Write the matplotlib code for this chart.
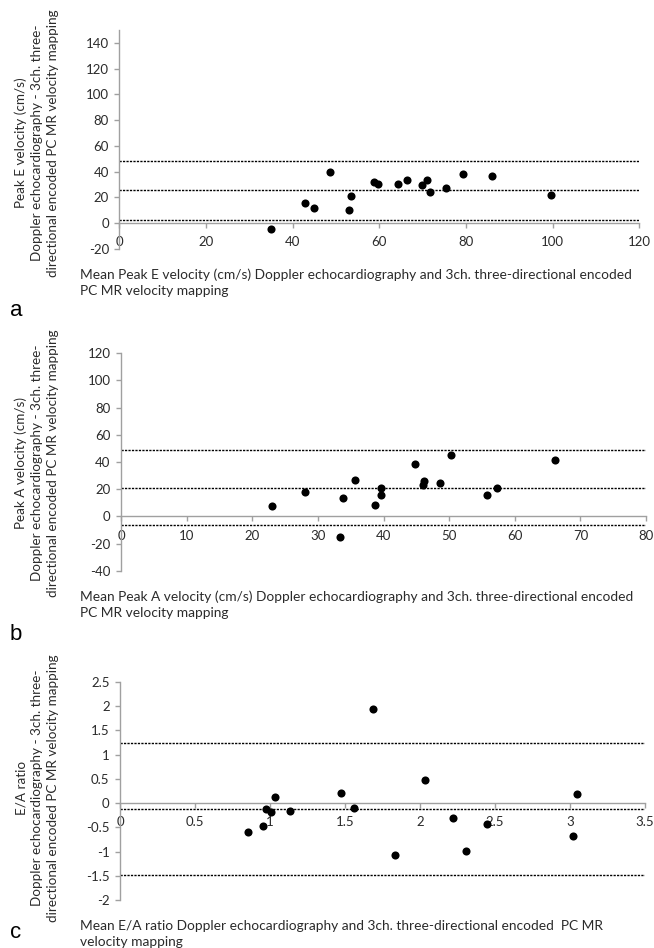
import matplotlib
matplotlib.use("Agg")
import matplotlib.pyplot as plt

plt.rcParams["font.family"] = ["Lato", "DejaVu Sans"]
plt.rcParams["axes.unicode_minus"] = False

# panel a: Peak E velocity
e_mean = [34.9, 42.85, 44.9, 48.7, 52.9, 53.5, 58.7, 59.6, 64.3, 66.4, 69.9, 71.0, 71.7, 75.3, 79.3, 85.9, 99.6]
e_diff = [-4.7, 15.9, 11.7, 39.7, 9.9, 21.0, 32.2, 30.6, 30.6, 33.2, 29.8, 33.2, 24.4, 27.2, 38.1, 36.3, 21.8]
e_limits = [48.5, 25.4, 2.4]

# panel b: Peak A velocity
a_mean = [23.0, 28.0, 33.4, 33.9, 35.7, 38.7, 39.6, 39.6, 44.8, 46.0, 46.2, 48.6, 50.3, 55.8, 57.3, 66.2]
a_diff = [7.8, 17.7, -15.5, 13.5, 26.5, 8.6, 20.6, 15.9, 38.3, 23.3, 25.8, 24.8, 44.9, 15.9, 20.8, 41.7]
a_limits = [48.6, 21.1, -6.2]

# panel c: E/A ratio
ea_mean = [0.856, 0.956, 0.971, 1.007, 1.036, 1.131, 1.473, 1.562, 1.684, 1.833, 2.031, 2.22, 2.307, 2.447, 3.018, 3.047]
ea_diff = [-0.60, -0.48, -0.12, -0.19, 0.12, -0.165, 0.21, -0.10, 1.936, -1.07, 0.47, -0.30, -0.98, -0.42, -0.67, 0.19]
ea_limits = [1.24, -0.116, -1.47]

x_titles = [
    "Mean Peak E velocity (cm/s) Doppler echocardiography and 3ch. three-directional encoded\nPC MR velocity mapping",
    "Mean Peak A velocity (cm/s) Doppler echocardiography and 3ch. three-directional encoded\nPC MR velocity mapping",
    "Mean E/A ratio Doppler echocardiography and 3ch. three-directional encoded  PC MR\nvelocity mapping",
]
y_titles = [
    "Peak E velocity (cm/s)\nDoppler echocardiography - 3ch. three-\ndirectional encoded PC MR velocity mapping",
    "Peak A velocity (cm/s)\nDoppler echocardiography - 3ch. three-\ndirectional encoded PC MR velocity mapping",
    "E/A ratio\nDoppler echocardiography - 3ch. three-\ndirectional encoded PC MR velocity mapping",
]
letters = ["a", "b", "c"]

W, H = 654, 948
fig = plt.figure(figsize=(W / 100, H / 100), dpi=100)

# (left, right, top, bottom) in pixels
boxes = [(119.3, 639.3, 30.0, 248.7), (121.0, 646.0, 353.3, 570.7), (120.0, 645.0, 681.7, 900.3)]
ytitle_cy = [143.0, 463.0, 788.0]
letter_y = [311.0, 634.0, 933.0]
panels = [
    (e_mean, e_diff, e_limits, (0, 120), range(0, 121, 20), (-20, 150), range(-20, 141, 20)),
    (a_mean, a_diff, a_limits, (0, 80), range(0, 81, 10), (-40, 120), range(-40, 121, 20)),
    (ea_mean, ea_diff, ea_limits, (0, 3.5), [0, 0.5, 1, 1.5, 2, 2.5, 3, 3.5], (-2, 2.5),
     [-2, -1.5, -1, -0.5, 0, 0.5, 1, 1.5, 2, 2.5]),
]

axis_col = "#a0a0a0"
text_col = "#2b2b2b"

for i, (xs, ys, lims, xl, xt, yl, yt) in enumerate(panels):
    l, r, t, b = boxes[i]
    ax = fig.add_axes([l / W, 1 - b / H, (r - l) / W, (b - t) / H])
    for v in lims:
        ax.axhline(v, color="black", lw=1.0, linestyle=(0, (1.6, 0.9)), zorder=2)
    ax.scatter(xs, ys, s=34, color="black", zorder=3, linewidths=0)
    ax.set_xlim(*xl)
    ax.set_ylim(*yl)
    ax.set_xticks(list(xt))
    ax.set_yticks(list(yt))
    ax.set_xticklabels([f"{v:g}" for v in xt])
    ax.set_yticklabels([f"{v:g}" for v in yt])
    for s in ["top", "right"]:
        ax.spines[s].set_visible(False)
    ax.spines["bottom"].set_position(("data", 0))
    for s in ["left", "bottom"]:
        ax.spines[s].set_color(axis_col)
        ax.spines[s].set_linewidth(1.0)
    ax.tick_params(axis="both", direction="out", length=3.5, width=1.0, color=axis_col,
                   labelcolor=text_col, labelsize=9.5)
    ax.tick_params(axis="x", pad=6)
    ax.tick_params(axis="y", pad=4)
    ax.patch.set_alpha(0)

    fig.text(37 / W, 1 - ytitle_cy[i] / H, y_titles[i], rotation=90, ha="center", va="center",
             multialignment="center", fontsize=9.7, color=text_col, linespacing=1.38)
    fig.text(80 / W, 1 - (b + 20) / H, x_titles[i], ha="left", va="top",
             fontsize=9.9, color=text_col, linespacing=1.35)
    fig.text(10 / W, 1 - letter_y[i] / H, letters[i], ha="left", va="center",
             fontsize=16, family=["Liberation Sans", "DejaVu Sans"], color="black")

fig.savefig("out.png", dpi=100)
